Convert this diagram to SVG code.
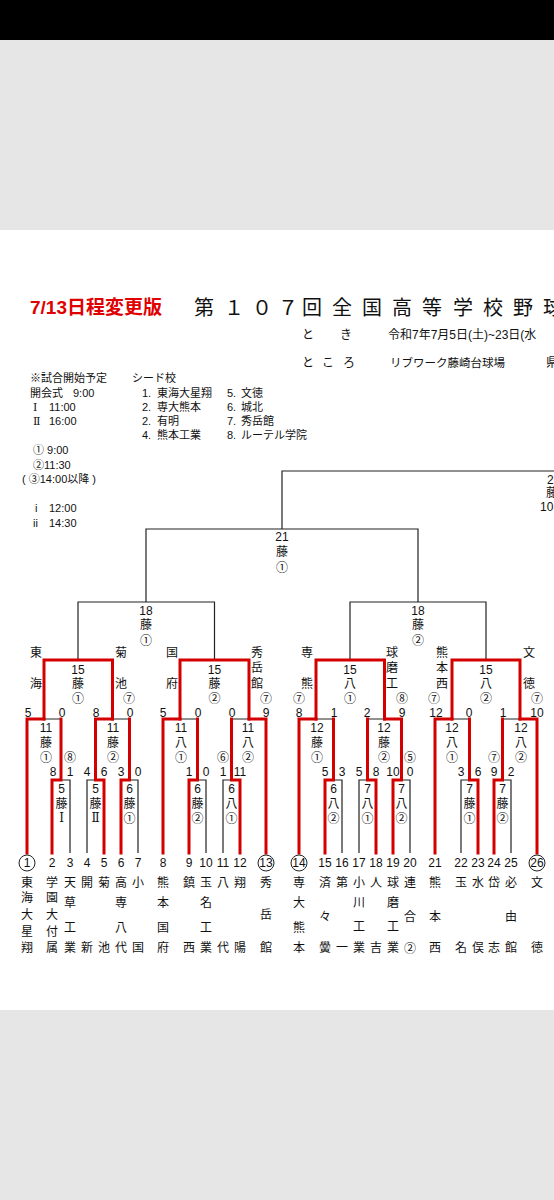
<svg xmlns="http://www.w3.org/2000/svg" width="554" height="1200" viewBox="0 0 554 1200">
<style>
text{font-family:"Liberation Sans","Noto Sans CJK JP",sans-serif;font-size:12px;fill:#111}
.m{text-anchor:middle}
.r{stroke:#d40000;stroke-width:3;fill:none;stroke-linejoin:miter;stroke-linecap:square}
.k{stroke:#222;stroke-width:1.2;fill:none}
.n{font-size:11px}
.o{font-family:"Noto Sans CJK JP",sans-serif;font-size:12px}
.rm{font-family:"DejaVu Serif","Liberation Serif","Noto Sans CJK JP",serif}
.cir{fill:none;stroke:#222;stroke-width:1}
</style>
<rect x="0" y="0" width="554" height="40" fill="#000"/>
<rect x="0" y="40" width="554" height="190" fill="#e6e6e6"/>
<rect x="0" y="230" width="554" height="780" fill="#fff"/>
<rect x="0" y="1010" width="554" height="190" fill="#e6e6e6"/>

<g id="header">
<text x="30" y="314" style="font-size:19px;font-weight:bold;fill:#e00000">7/13日程変更版</text>
<text x="194" y="315" style="font-size:20px">第</text>
<text x="224" y="315" style="font-size:20px">１</text>
<text x="252" y="315" style="font-size:20px">０</text>
<text x="278" y="315" style="font-size:20px">７</text>
<text x="302" y="315" style="font-size:20px">回</text>
<text x="332" y="315" style="font-size:20px">全</text>
<text x="362" y="315" style="font-size:20px">国</text>
<text x="392" y="315" style="font-size:20px">高</text>
<text x="422" y="315" style="font-size:20px">等</text>
<text x="453" y="315" style="font-size:20px">学</text>
<text x="483" y="315" style="font-size:20px">校</text>
<text x="513" y="315" style="font-size:20px">野</text>
<text x="543" y="315" style="font-size:20px">球</text>
<text x="302" y="339">と</text>
<text x="340" y="339">き</text>
<text x="388" y="339">令和7年7月5日(土)~23日(水</text>
<text x="302" y="367">と</text>
<text x="322" y="367">こ</text>
<text x="343" y="367">ろ</text>
<text x="390" y="367" style="font-size:11.5px">リブワーク藤崎台球場</text>
<text x="546" y="367">県</text>
</g>

<g id="notes">
<text x="30" y="382" class="n">※試合開始予定</text>
<text x="30" y="397" class="n">開会式</text>
<text x="73" y="397" class="n">9:00</text>
<text x="33" y="411" class="n rm">Ⅰ</text>
<text x="49" y="411" class="n">11:00</text>
<text x="33" y="425" class="n rm">Ⅱ</text>
<text x="49" y="425" class="n">16:00</text>
<text x="132" y="382" class="n">シード校</text>
<text x="142" y="397" class="n">1.</text><text x="157" y="397" class="n">東海大星翔</text>
<text x="142" y="411" class="n">2.</text><text x="157" y="411" class="n">専大熊本</text>
<text x="142" y="425" class="n">2.</text><text x="157" y="425" class="n">有明</text>
<text x="142" y="439" class="n">4.</text><text x="157" y="439" class="n">熊本工業</text>
<text x="227" y="397" class="n">5.</text><text x="241" y="397" class="n">文徳</text>
<text x="227" y="411" class="n">6.</text><text x="241" y="411" class="n">城北</text>
<text x="227" y="425" class="n">7.</text><text x="241" y="425" class="n">秀岳館</text>
<text x="227" y="439" class="n">8.</text><text x="241" y="439" class="n">ルーテル学院</text>
<text x="33" y="454" class="n">① 9:00</text>
<text x="33" y="469" class="n">②11:30</text>
<text x="22" y="483" class="n">( ③14:00以降 )</text>
<text x="35" y="512" class="n">i</text><text x="49" y="512" class="n">12:00</text>
<text x="33" y="527" class="n">ii</text><text x="49" y="527" class="n">14:30</text>
</g>

<g id="connectors">
<path class="k" d="M282,529 V471 H560"/>
<path class="k" d="M146,602 V529 H418 V602"/>
<path class="k" d="M78,660 V602 H214.5 V660"/>
<path class="k" d="M350,660 V602 H486 V660"/>
<path class="k" d="M44,719 H61 M112.5,719 H129.5 M180,719 H197.5 M231.5,719 H249 M316,719 H333.5 M367.5,719 H384.5 M452,719 H469.5 M502.5,719 H520"/>
<path class="k" d="M61,780 H70 V853 M95.5,780 H87 V853 M129.5,780 H138 V853 M197.5,780 H206 V853 M231.5,780 H223 V853 M333.5,780 H342 V853 M367.5,780 H359 V853 M401.5,780 H410 V853 M469.5,780 H461 V853 M502.5,780 H511 V853"/>
<path class="r" d="M27,853 V719 H44"/>
<path class="r" d="M52,853 V780 H61 V719"/>
<path class="r" d="M104,853 V780 H95.5 V719 H112.5"/>
<path class="r" d="M121,853 V780 H129.5 V719"/>
<path class="r" d="M163,853 V719 H180"/>
<path class="r" d="M189,853 V780 H197.5 V719"/>
<path class="r" d="M240,853 V780 H231.5 V719"/>
<path class="r" d="M266,853 V719 H249"/>
<path class="r" d="M44,719 V660 H112.5 V719"/>
<path class="r" d="M180,719 V660 H249 V719"/>
<path class="r" d="M299,853 V719 H316"/>
<path class="r" d="M325,853 V780 H333.5 V719"/>
<path class="r" d="M376,853 V780 H367.5 V719"/>
<path class="r" d="M393,853 V780 H401.5 V719 H384.5"/>
<path class="r" d="M435,853 V719 H452"/>
<path class="r" d="M478,853 V780 H469.5 V719"/>
<path class="r" d="M494,853 V780 H502.5 V719"/>
<path class="r" d="M537,853 V719 H520"/>
<path class="r" d="M316,719 V660 H384.5 V719"/>
<path class="r" d="M452,719 V660 H520 V719"/>
</g>

<g id="final">
<text x="547" y="484">2</text>
<text x="546" y="497">藤</text>
<text x="540" y="511">10</text>
</g>
<g id="m21"><text class="m" x="282" y="541">21</text><text class="m" x="282" y="556">藤</text><text class="m o" x="282" y="572">①</text></g>
<g id="m18L"><text class="m" x="146" y="615">18</text><text class="m" x="146" y="629">藤</text><text class="m o" x="146" y="645">①</text></g>
<g id="m18R"><text class="m" x="418" y="615">18</text><text class="m" x="418" y="629">藤</text><text class="m o" x="418" y="645">②</text></g>

<g id="m15A">
<text class="m" x="78" y="674">15</text><text class="m" x="78" y="688">藤</text><text class="m o" x="78" y="703">①</text>
<text class="m" x="36" y="657">東</text><text class="m" x="36" y="688">海</text>
<text class="m" x="121" y="657">菊</text><text class="m" x="121" y="688">池</text><text class="m o" x="129" y="703">⑦</text>
<text class="m" x="28" y="717">5</text><text class="m" x="62" y="717">0</text><text class="m" x="96" y="717">8</text><text class="m" x="130" y="717">0</text>
</g>
<g id="m15B">
<text class="m" x="214.5" y="674">15</text><text class="m" x="214.5" y="688">藤</text><text class="m o" x="214.5" y="703">②</text>
<text class="m" x="172" y="657">国</text><text class="m" x="172" y="688">府</text>
<text class="m" x="257" y="657">秀</text><text class="m" x="257" y="672">岳</text><text class="m" x="257" y="688">館</text><text class="m o" x="266" y="703">⑦</text>
<text class="m" x="163" y="717">5</text><text class="m" x="198" y="717">0</text><text class="m" x="232" y="717">0</text><text class="m" x="266" y="717">9</text>
</g>
<g id="m15C">
<text class="m" x="350" y="674">15</text><text class="m" x="350" y="688">八</text><text class="m o" x="350" y="703">①</text>
<text class="m" x="307" y="657">専</text><text class="m" x="307" y="688">熊</text><text class="m o" x="299" y="703">⑦</text>
<text class="m" x="392" y="657">球</text><text class="m" x="392" y="672">磨</text><text class="m" x="392" y="688">工</text><text class="m o" x="402" y="703">⑧</text>
<text class="m" x="299" y="717">8</text><text class="m" x="334" y="717">1</text><text class="m" x="367" y="717">2</text><text class="m" x="402" y="717">9</text>
</g>
<g id="m15D">
<text class="m" x="486" y="674">15</text><text class="m" x="486" y="688">八</text><text class="m o" x="486" y="703">②</text>
<text class="m" x="442" y="657">熊</text><text class="m" x="442" y="672">本</text><text class="m" x="442" y="688">西</text><text class="m o" x="434" y="703">⑦</text>
<text class="m" x="529" y="657">文</text><text class="m" x="529" y="688">徳</text><text class="m o" x="537" y="703">⑦</text>
<text class="m" x="436" y="717">12</text><text class="m" x="469" y="717">0</text><text class="m" x="503" y="717">1</text><text class="m" x="537" y="717">10</text>
</g>

<g id="m11">
<text class="m" x="46" y="732">11</text><text class="m" x="46" y="747">藤</text><text class="m o" x="46" y="762">①</text><text class="m o" x="70" y="762">⑧</text>
<text class="m" x="113" y="732">11</text><text class="m" x="113" y="747">藤</text><text class="m o" x="113" y="762">②</text>
<text class="m" x="181" y="732">11</text><text class="m" x="181" y="747">八</text><text class="m o" x="181" y="762">①</text>
<text class="m" x="248" y="732">11</text><text class="m" x="248" y="747">八</text><text class="m o" x="248" y="762">②</text><text class="m o" x="223" y="762">⑥</text>
<text class="m" x="317" y="732">12</text><text class="m" x="317" y="747">藤</text><text class="m o" x="317" y="762">①</text>
<text class="m" x="384" y="732">12</text><text class="m" x="384" y="747">藤</text><text class="m o" x="384" y="762">②</text><text class="m o" x="410" y="762">⑤</text>
<text class="m" x="452" y="732">12</text><text class="m" x="452" y="747">八</text><text class="m o" x="452" y="762">①</text>
<text class="m" x="521" y="732">12</text><text class="m" x="521" y="747">八</text><text class="m o" x="521" y="762">②</text><text class="m o" x="494" y="762">⑦</text>
</g>

<g id="m1st">
<text class="m" x="53" y="776">8</text><text class="m" x="70" y="776">1</text>
<text class="m" x="61.5" y="793">5</text><text class="m" x="61.5" y="808">藤</text><text class="m rm" x="61.5" y="822">Ⅰ</text>
<text class="m" x="87" y="776">4</text><text class="m" x="104" y="776">6</text>
<text class="m" x="95.5" y="793">5</text><text class="m" x="95.5" y="808">藤</text><text class="m rm" x="95.5" y="822">Ⅱ</text>
<text class="m" x="121" y="776">3</text><text class="m" x="138" y="776">0</text>
<text class="m" x="129.5" y="793">6</text><text class="m" x="129.5" y="808">藤</text><text class="m o" x="129.5" y="823">①</text>
<text class="m" x="189" y="776">1</text><text class="m" x="206" y="776">0</text>
<text class="m" x="197.5" y="793">6</text><text class="m" x="197.5" y="808">藤</text><text class="m o" x="197.5" y="823">②</text>
<text class="m" x="223" y="776">1</text><text class="m" x="240" y="776">11</text>
<text class="m" x="231.5" y="793">6</text><text class="m" x="231.5" y="808">八</text><text class="m o" x="231.5" y="823">①</text>
<text class="m" x="325" y="776">5</text><text class="m" x="342" y="776">3</text>
<text class="m" x="333.5" y="793">6</text><text class="m" x="333.5" y="808">八</text><text class="m o" x="333.5" y="823">②</text>
<text class="m" x="359" y="776">5</text><text class="m" x="376" y="776">8</text>
<text class="m" x="367.5" y="793">7</text><text class="m" x="367.5" y="808">八</text><text class="m o" x="367.5" y="823">①</text>
<text class="m" x="393" y="776">10</text><text class="m" x="410" y="776">0</text>
<text class="m" x="401.5" y="793">7</text><text class="m" x="401.5" y="808">八</text><text class="m o" x="401.5" y="823">②</text>
<text class="m" x="461" y="776">3</text><text class="m" x="478" y="776">6</text>
<text class="m" x="469.5" y="793">7</text><text class="m" x="469.5" y="808">藤</text><text class="m o" x="469.5" y="823">①</text>
<text class="m" x="494" y="776">9</text><text class="m" x="511" y="776">2</text>
<text class="m" x="502.5" y="793">7</text><text class="m" x="502.5" y="808">藤</text><text class="m o" x="502.5" y="823">②</text>
</g>

<g id="teams">
<circle class="cir" cx="27" cy="863" r="8"/><circle class="cir" cx="266" cy="863" r="8"/><circle class="cir" cx="299" cy="863" r="8"/><circle class="cir" cx="537" cy="863" r="8"/>
<text class="m" x="27" y="867">1</text><text class="m" x="52" y="867">2</text><text class="m" x="70" y="867">3</text><text class="m" x="87" y="867">4</text><text class="m" x="104" y="867">5</text><text class="m" x="121" y="867">6</text><text class="m" x="138" y="867">7</text><text class="m" x="163" y="867">8</text><text class="m" x="189" y="867">9</text><text class="m" x="206" y="867">10</text><text class="m" x="223" y="867">11</text><text class="m" x="240" y="867">12</text><text class="m" x="266" y="867">13</text>
<text class="m" x="299" y="867">14</text><text class="m" x="325" y="867">15</text><text class="m" x="342" y="867">16</text><text class="m" x="359" y="867">17</text><text class="m" x="376" y="867">18</text><text class="m" x="393" y="867">19</text><text class="m" x="410" y="867">20</text><text class="m" x="435" y="867">21</text><text class="m" x="461" y="867">22</text><text class="m" x="478" y="867">23</text><text class="m" x="494" y="867">24</text><text class="m" x="511" y="867">25</text><text class="m" x="537" y="867">26</text>
<text class="m" x="27" y="887">東</text><text class="m" x="27" y="902">海</text><text class="m" x="27" y="919">大</text><text class="m" x="27" y="936">星</text><text class="m" x="27" y="952">翔</text>
<text class="m" x="52" y="887">学</text><text class="m" x="52" y="902">園</text><text class="m" x="52" y="919">大</text><text class="m" x="52" y="936">付</text><text class="m" x="52" y="952">属</text>
<text class="m" x="70" y="887">天</text><text class="m" x="70" y="907">草</text><text class="m" x="70" y="932">工</text><text class="m" x="70" y="952">業</text>
<text class="m" x="87" y="887">開</text><text class="m" x="87" y="952">新</text>
<text class="m" x="104" y="887">菊</text><text class="m" x="104" y="952">池</text>
<text class="m" x="121" y="887">高</text><text class="m" x="121" y="907">専</text><text class="m" x="121" y="932">八</text><text class="m" x="121" y="952">代</text>
<text class="m" x="138" y="887">小</text><text class="m" x="138" y="952">国</text>
<text class="m" x="163" y="887">熊</text><text class="m" x="163" y="907">本</text><text class="m" x="163" y="932">国</text><text class="m" x="163" y="952">府</text>
<text class="m" x="189" y="887">鎮</text><text class="m" x="189" y="952">西</text>
<text class="m" x="206" y="887">玉</text><text class="m" x="206" y="907">名</text><text class="m" x="206" y="932">工</text><text class="m" x="206" y="952">業</text>
<text class="m" x="223" y="887">八</text><text class="m" x="223" y="952">代</text>
<text class="m" x="240" y="887">翔</text><text class="m" x="240" y="952">陽</text>
<text class="m" x="266" y="887">秀</text><text class="m" x="266" y="919">岳</text><text class="m" x="266" y="952">館</text>
<text class="m" x="299" y="887">専</text><text class="m" x="299" y="907">大</text><text class="m" x="299" y="932">熊</text><text class="m" x="299" y="952">本</text>
<text class="m" x="325" y="887">済</text><text class="m" x="325" y="921">々</text><text class="m" x="325" y="952">黌</text>
<text class="m" x="342" y="887">第</text><text class="m" x="342" y="952">一</text>
<text class="m" x="359" y="887">小</text><text class="m" x="359" y="907">川</text><text class="m" x="359" y="931">工</text><text class="m" x="359" y="952">業</text>
<text class="m" x="376" y="887">人</text><text class="m" x="376" y="952">吉</text>
<text class="m" x="393" y="887">球</text><text class="m" x="393" y="907">磨</text><text class="m" x="393" y="931">工</text><text class="m" x="393" y="952">業</text>
<text class="m" x="410" y="887">連</text><text class="m" x="410" y="921">合</text><text class="m o" x="410" y="953">②</text>
<text class="m" x="435" y="887">熊</text><text class="m" x="435" y="921">本</text><text class="m" x="435" y="952">西</text>
<text class="m" x="461" y="887">玉</text><text class="m" x="461" y="952">名</text>
<text class="m" x="478" y="887">水</text><text class="m" x="478" y="952">俣</text>
<text class="m" x="494" y="887">岱</text><text class="m" x="494" y="952">志</text>
<text class="m" x="511" y="887">必</text><text class="m" x="511" y="921">由</text><text class="m" x="511" y="952">館</text>
<text class="m" x="537" y="887">文</text><text class="m" x="537" y="952">徳</text>
</g>
</svg>
